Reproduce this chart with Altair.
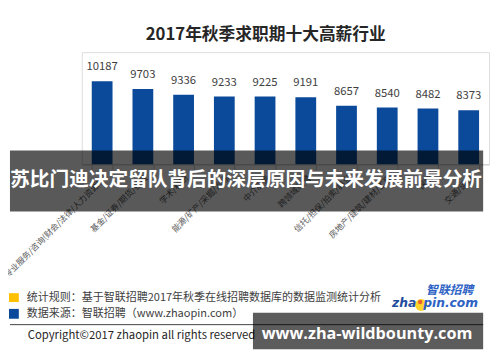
import altair as alt
import pandas as pd

# ---- data ----
categories = [
    "专业服务/咨询(财会/法律/人力资源等)",
    "基金/证券/期货/投资",
    "学术/科研",
    "能源/矿产/采掘/冶炼",
    "中介服务",
    "跨领域经营",
    "信托/担保/拍卖/典当",
    "房地产/建筑/建材/工程",
    "保险",
    "交通/运输",
]
salaries = [10187, 9703, 9336, 9233, 9225, 9191, 8657, 8540, 8482, 8373]

title_text = "2017年秋季求职期十大高薪行业"
banner_text = "苏比门迪决定留队背后的深层原因与未来发展前景分析"
note_rule = "统计规则：基于智联招聘2017年秋季在线招聘数据库的数据监测统计分析"
note_source = "数据来源：智联招聘（www.zhaopin.com）"
copyright_text = "Copyright©2017 zhaopin all rights reserved"
watermark_text = "www.zha-wildbounty.com"
logo_cn = "智联招聘"
logo_left = "zha"
logo_right = "pin.com"

df = pd.DataFrame({"行业": categories, "月薪": salaries})

CJK = "Noto Sans CJK SC"
BAR = "#0b4a9a"
one = alt.Data(values=[{}])

x_enc = alt.X(
    "行业:N",
    sort=None,
    scale=alt.Scale(paddingInner=0.49, paddingOuter=0.245),
    axis=alt.Axis(
        title=None,
        labelAngle=-45,
        labelFontSize=8.5,
        labelFont=CJK,
        labelColor="#595959",
        labelLimit=300,
        labelPadding=4,
        domainColor="#c8c8c8",
        tickColor="#c8c8c8",
        tickSize=5,
        tickBand="extent",
        grid=False,
    ),
)
y_scale = alt.Scale(domain=[5000, 12000], zero=False)

bars = alt.Chart(df).mark_bar(color=BAR).encode(
    x=x_enc,
    y=alt.Y("月薪:Q", scale=y_scale, axis=None),
    y2=alt.datum(5000),
)

values = alt.Chart(df).mark_text(
    font=CJK, fontSize=11.5, color="#404040", baseline="alphabetic", dy=-11
).encode(
    x=alt.X("行业:N", sort=None),
    y=alt.Y("月薪:Q", scale=y_scale),
    text=alt.Text("月薪:Q", format="d"),
)

def txt(text, x, y, size, color="#404040", align="left", weight="normal",
        style="normal", font=CJK):
    return alt.Chart(one).mark_text(
        text=text, fontSize=size, color=color, align=align, baseline="middle",
        fontWeight=weight, fontStyle=style, font=font,
    ).encode(x=alt.value(x), y=alt.value(y))

def box(x, x2, y, y2, color, opacity=1.0):
    return alt.Chart(one).mark_rect(color=color, opacity=opacity).encode(
        x=alt.value(x), x2=alt.value(x2), y=alt.value(y), y2=alt.value(y2)
    )

title = txt(title_text, 187, -17, 17, color="#262626", align="center", weight="bold")

banner = box(-73, 408, 100, 162, "black", 0.65)
banner_t = txt(banner_text, 167, 130, 20, color="white", align="center", weight="bold")

sq_y = box(-74, -64, 245, 254, "#ffc000")
sq_b = box(-74, -64, 261, 271, BAR)
note1 = txt(note_rule, -56, 250, 11.2)
note2 = txt(note_source, -56, 266, 11.2)
line = alt.Chart(one).mark_rule(color="#404040", strokeWidth=1).encode(
    x=alt.value(-73), x2=alt.value(408), y=alt.value(277)
)
copy_t = txt(copyright_text, -55, 289, 11.5, color="#262626")

logo_dot = alt.Chart(one).mark_point(
    filled=True, color="#ffd21f", size=150, opacity=0.95
).encode(x=alt.value(345), y=alt.value(257))
logo_red = alt.Chart(one).mark_point(
    filled=True, color="#e0322b", size=20
).encode(x=alt.value(344), y=alt.value(254))
logo1 = txt(logo_cn, 374, 242, 12, color="#2d62c4", align="center",
            weight="bold", style="italic")
logo2 = txt(logo_left, 340, 255, 12.5, color="#1f4c9c", align="right",
            weight="bold", style="italic", font="DejaVu Sans")
logo3 = txt(logo_right, 347, 255, 12.5, color="#2d62c4", align="left",
            weight="bold", style="italic", font="DejaVu Sans")

wm = box(174, 408, 265, 302, "black", 0.64)
wm_t = txt(watermark_text, 290, 287, 16.5, color="white", align="center",
           weight="bold", font="Open Sans")

chart = alt.layer(
    bars, values, title, banner, banner_t,
    sq_y, sq_b, note1, note2, line, copy_t,
    logo_dot, logo_red, logo1, logo2, logo3,
    wm, wm_t,
).properties(
    width=414,
    height=114,
    autosize=alt.AutoSizeParams(type="none"),
    padding={"left": 75, "top": 42, "right": 3, "bottom": 192},
).configure_view(stroke=None).configure(background="white")

chart.save("out.html", embed_options={"renderer": "svg", "actions": False})
